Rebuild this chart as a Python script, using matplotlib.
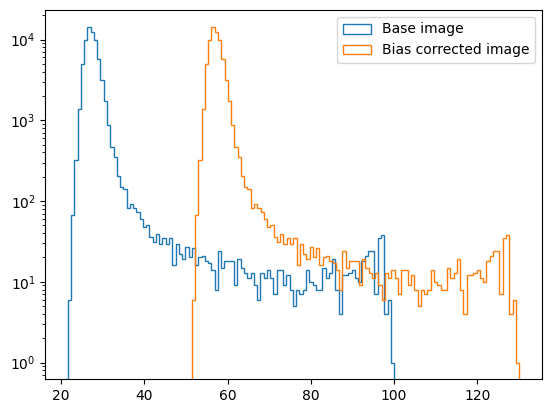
import numpy as np
import matplotlib
matplotlib.use("Agg")
import matplotlib.pyplot as plt

# Histogram counts per bin (100 bins)
base_counts = [
    6, 68, 323, 1390, 5050, 9800, 14400, 12450, 9800, 5700,
    3150, 1745, 875, 462, 348, 203, 148, 142, 82, 92,
    83, 73, 60, 48, 51, 36, 31, 39, 29, 35,
    29, 35, 16, 29, 22, 19, 27, 20, 26, 16,
    20, 21, 18, 17, 14, 8, 24, 15, 18, 18,
    18, 9, 19, 15, 13, 11, 13, 9, 6, 13,
    11, 14, 11, 7, 14, 14, 9, 12, 8, 5,
    8, 7, 8, 14, 10, 9, 8, 8, 15, 11,
    13, 19, 8, 4, 12, 12, 13, 14, 11, 10,
    18, 21, 24, 24, 7, 35, 38, 4, 6, 1,
]
corrected_counts = [
    6, 68, 323, 1390, 5050, 9800, 14400, 12450, 9800, 5700,
    3150, 1745, 875, 462, 348, 203, 148, 142, 82, 92,
    83, 73, 60, 48, 51, 36, 31, 39, 29, 35,
    29, 35, 16, 29, 22, 19, 27, 20, 26, 16,
    20, 21, 18, 17, 14, 8, 24, 15, 18, 18,
    18, 9, 19, 15, 13, 11, 13, 9, 6, 13,
    11, 14, 11, 7, 14, 14, 9, 12, 8, 5,
    8, 7, 8, 14, 10, 9, 8, 8, 15, 11,
    13, 19, 8, 4, 12, 12, 13, 14, 11, 10,
    18, 21, 24, 24, 7, 35, 38, 4, 6, 1,
]
base_range = (21.62, 100.02)
corrected_range = (51.42, 130.08)
n_bins = 100
labels = ["Base image", "Bias corrected image"]

fig = plt.figure(figsize=(5.51, 4.13), dpi=100)
ax = fig.add_axes([45.3 / 551, (413 - 379.3) / 413, 496.4 / 551, 369.3 / 413])

for counts, rng, lab in [(base_counts, base_range, labels[0]),
                         (corrected_counts, corrected_range, labels[1])]:
    edges = np.linspace(rng[0], rng[1], n_bins + 1)
    centers = 0.5 * (edges[:-1] + edges[1:])
    ax.hist(centers, bins=edges, weights=counts, histtype="step",
            log=True, label=lab)

ax.legend()
fig.savefig("out.png", dpi=100)
